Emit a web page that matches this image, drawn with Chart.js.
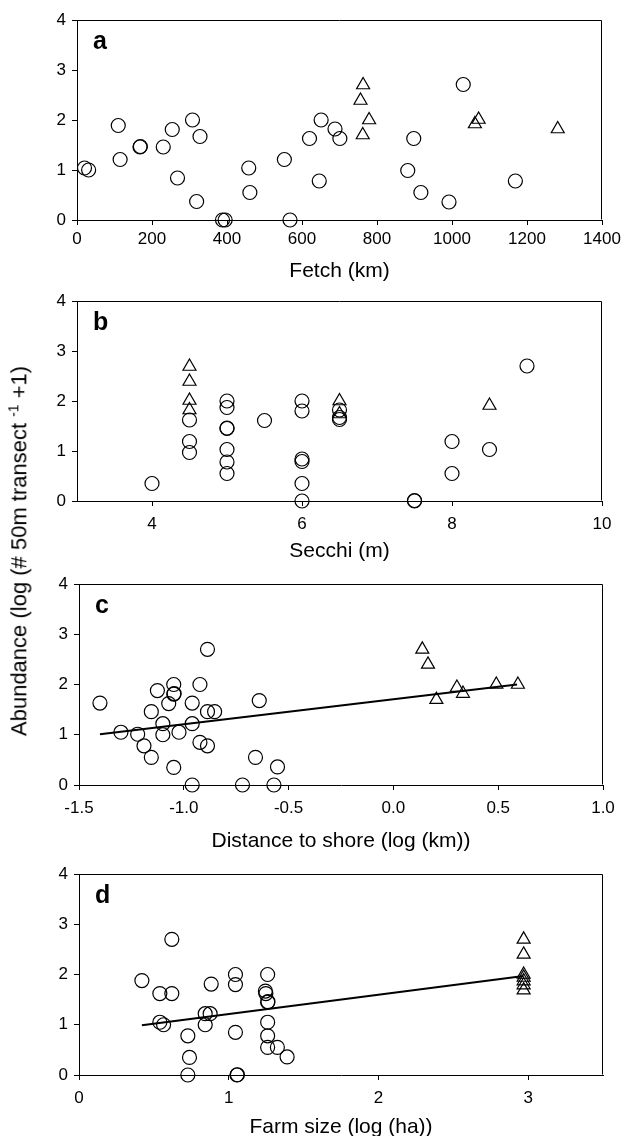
<!DOCTYPE html>
<html>
<head>
<meta charset="utf-8">
<script src="https://cdn.jsdelivr.net/npm/chart.js@4.4.1/dist/chart.umd.min.js"></script>
<style>
  body { margin: 0; background: #fff; }
  #page { position: relative; width: 625px; height: 1136px; overflow: hidden; font-family: "Liberation Sans", Arial, sans-serif; }
  canvas { position: absolute; left: 0; }
  #ylab { position: absolute; left: 19px; top: 551px; transform: translate(-50%, -50%) rotate(-90deg); white-space: nowrap; font-size: 22px; color: #000; }
  #ylab sup { font-size: 14px; }
</style>
</head>
<body>
<div id="page">
  <canvas id="fetchChart" width="625" height="284" style="top:0px"></canvas>
  <canvas id="secchiChart" width="625" height="283" style="top:281px"></canvas>
  <canvas id="shoreChart" width="625" height="290" style="top:564px"></canvas>
  <canvas id="farmChart" width="625" height="286" style="top:854px"></canvas>
  <div id="ylab">Abundance (log (# 50m transect <sup>-1</sup> +1)</div>
</div>
<script>
// values: [x, abundance]
const fetchOpen = [[20, 1.04], [31, 1.0], [110, 1.89], [115, 1.21], [168, 1.46], [169, 1.47], [230, 1.46],
  [254, 1.81], [268, 0.84], [308, 2.0], [328, 1.67], [319, 0.37], [388, 0], [395, 0], [458, 1.04],
  [461, 0.55], [568, 0], [553, 1.21], [620, 1.63], [651, 2.0], [646, 0.78], [688, 1.82], [701, 1.63],
  [882, 0.99], [898, 1.63], [917, 0.55], [992, 0.36], [1030, 2.71], [1169, 0.78]];
const fetchTri = [[763, 2.7], [756, 2.39], [779, 2.0], [762, 1.7], [1061, 1.92], [1071, 2.01], [1282, 1.82]];

const secchiOpen = [[4, 0.35], [4.5, 1.62], [4.5, 1.19], [4.5, 0.97], [5, 2.0], [5, 1.87], [5, 1.45], [5, 1.46],
  [5, 1.03], [5, 0.78], [5, 0.55], [5.5, 1.61], [6, 2.0], [6, 1.8], [6, 0.84], [6, 0.79], [6, 0.35], [6, 0],
  [6.5, 1.82], [6.5, 1.67], [6.5, 1.63], [7.5, 0], [7.5, 0.01], [8, 1.19], [8, 0.55], [8.5, 1.03], [9, 2.7]];
const secchiTri = [[4.5, 2.69], [4.5, 2.39], [4.5, 2.01], [4.5, 1.82], [6.5, 2.0], [6.5, 1.74], [8.5, 1.91]];

const shoreOpen = [[-1.40, 1.63], [-1.30, 1.05], [-1.22, 1.01], [-1.19, 0.78], [-1.155, 1.46], [-1.155, 0.55],
  [-1.126, 1.88], [-1.10, 1.22], [-1.10, 1.0], [-1.072, 1.62], [-1.048, 2.0], [-1.048, 1.81], [-1.046, 1.82],
  [-1.048, 0.35], [-1.023, 1.05], [-0.96, 1.63], [-0.96, 1.22], [-0.96, 0], [-0.923, 2.0], [-0.923, 0.85],
  [-0.887, 2.70], [-0.887, 1.46], [-0.887, 0.78], [-0.853, 1.46], [-0.72, 0], [-0.658, 0.55], [-0.64, 1.68],
  [-0.57, 0], [-0.553, 0.36]];
const shoreTri = [[0.138, 2.7], [0.165, 2.4], [0.205, 1.7], [0.303, 1.94], [0.332, 1.82], [0.491, 2.0], [0.594, 2.0]];
const shoreFit = [[-1.4, 1.01], [0.59, 2.0]];

const farmOpen = [[0.42, 1.88], [0.54, 1.62], [0.62, 2.70], [0.62, 1.62], [0.54, 1.05], [0.565, 1.0],
  [0.727, 0.78], [0.738, 0.35], [0.727, 0], [0.843, 1.22], [0.843, 1.0], [0.876, 1.22], [0.883, 1.81],
  [1.045, 2.0], [1.045, 1.8], [1.045, 0.85], [1.055, 0], [1.058, 0.005], [1.26, 2.0], [1.245, 1.67],
  [1.248, 1.62], [1.26, 1.45], [1.262, 1.46], [1.26, 1.05], [1.26, 0.78], [1.26, 0.55], [1.325, 0.55],
  [1.39, 0.36]];
const farmTri = [[2.97, 2.7], [2.97, 2.4], [2.97, 2.0], [2.97, 1.94], [2.97, 1.87], [2.97, 1.79], [2.97, 1.69]];
const farmFit = [[0.42, 0.99], [2.97, 1.97]];

const yTicks = [0, 1, 2, 3, 4];
const fetchTicks = [0, 200, 400, 600, 800, 1000, 1200, 1400];
const secchiTicks = [4, 6, 8, 10];
const shoreTicks = [-1.5, -1.0, -0.5, 0.0, 0.5, 1.0];
const farmTicks = [0, 1, 2, 3];

const FONT = '"Liberation Sans", Arial, sans-serif';
const toXY = arr => arr.map(([x, y]) => ({ x, y }));

// top and right edges of the box, plus the panel letter
const framePlugin = {
  id: 'frame',
  afterDraw(chart, args, opts) {
    const { ctx, chartArea: a } = chart;
    const l = Math.round(a.left) + 0.5, r = Math.round(a.right) - 0.5;
    const t = Math.round(a.top) + 0.5, b = Math.round(a.bottom) - 0.5;
    ctx.save();
    ctx.strokeStyle = '#000';
    ctx.lineWidth = 1;
    ctx.beginPath();
    ctx.moveTo(l, t);
    ctx.lineTo(r, t);
    ctx.lineTo(r, b);
    ctx.stroke();
    ctx.font = 'bold 25px ' + FONT;
    ctx.fillStyle = '#000';
    ctx.textBaseline = 'alphabetic';
    ctx.fillText(opts.letter, a.left + 16, a.top + 29);
    ctx.restore();
  }
};

function makePanel(id, p) {
  const datasets = [
    {
      data: toXY(p.open), pointStyle: 'circle', pointRadius: 7, pointHoverRadius: 7,
      pointBorderColor: '#000', pointBackgroundColor: 'rgba(0,0,0,0)', pointBorderWidth: 1.2, clip: false
    },
    {
      data: toXY(p.tri), pointStyle: 'triangle', pointRadius: 7.5, pointHoverRadius: 7.5,
      pointBorderColor: '#000', pointBackgroundColor: 'rgba(0,0,0,0)', pointBorderWidth: 1.2, clip: false
    }
  ];
  if (p.fit) {
    datasets.push({
      data: toXY(p.fit), showLine: true, borderColor: '#000', borderWidth: 2,
      pointRadius: 0, pointHoverRadius: 0, fill: false, clip: false
    });
  }

  new Chart(document.getElementById(id), {
    type: 'scatter',
    data: { datasets },
    options: {
      responsive: false,
      animation: false,
      events: [],
      layout: { padding: { left: 0, right: 625 - p.right, top: 20, bottom: 0 } },
      plugins: {
        legend: { display: false },
        tooltip: { enabled: false },
        frame: { letter: p.letter }
      },
      scales: {
        x: {
          type: 'linear', position: 'bottom', min: p.min, max: p.max,
          afterFit: s => { s.height = p.xh; },
          afterBuildTicks: s => { s.ticks = p.ticks.map(v => ({ value: v })); },
          grid: { display: true, drawOnChartArea: false, drawTicks: true, tickLength: 5, color: '#000' },
          border: { display: true, color: '#000', width: 1 },
          ticks: {
            color: '#000', padding: p.tickPad, maxRotation: 0, autoSkip: false,
            font: { family: FONT, size: 17 },
            callback: v => v.toFixed(p.dec)
          },
          title: { display: true, text: p.title, color: '#000', padding: 0, font: { family: FONT, size: 21 } }
        },
        y: {
          type: 'linear', min: 0, max: 4,
          afterFit: s => { s.width = p.left; },
          afterBuildTicks: s => { s.ticks = yTicks.map(v => ({ value: v })); },
          grid: { display: true, drawOnChartArea: false, drawTicks: true, tickLength: 5, color: '#000' },
          border: { display: true, color: '#000', width: 1 },
          ticks: { color: '#000', padding: 6, font: { family: FONT, size: 17 } }
        }
      }
    },
    plugins: [framePlugin]
  });
}

makePanel('fetchChart', {
  letter: 'a', open: fetchOpen, tri: fetchTri, min: 0, max: 1400, ticks: fetchTicks, dec: 0,
  title: 'Fetch (km)', left: 77, right: 602, xh: 64, tickPad: 4
});
makePanel('secchiChart', {
  letter: 'b', open: secchiOpen, tri: secchiTri, min: 3, max: 10, ticks: secchiTicks, dec: 0,
  title: 'Secchi (m)', left: 77, right: 602, xh: 63, tickPad: 8
});
makePanel('shoreChart', {
  letter: 'c', open: shoreOpen, tri: shoreTri, fit: shoreFit, min: -1.5, max: 1.0, ticks: shoreTicks, dec: 1,
  title: 'Distance to shore (log (km))', left: 79, right: 603, xh: 69, tickPad: 8
});
makePanel('farmChart', {
  letter: 'd', open: farmOpen, tri: farmTri, fit: farmFit, min: 0, max: 3.5, ticks: farmTicks, dec: 0,
  title: 'Farm size (log (ha))', left: 79, right: 603, xh: 65, tickPad: 8
});
</script>
</body>
</html>
